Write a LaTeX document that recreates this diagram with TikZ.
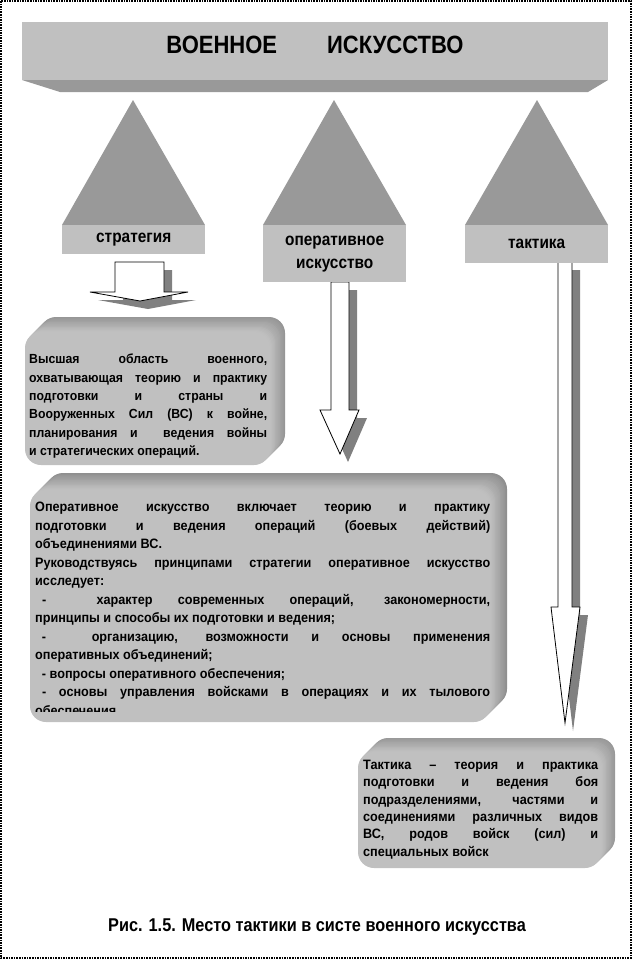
\documentclass[tikz,border=0pt]{standalone}
\usepackage{fontspec}
\setmainfont{Liberation Sans}
\newfontfamily\bodyfont{Liberation Sans}[FakeStretch=0.93]
\newfontfamily\labfont{Liberation Sans}[FakeStretch=0.88]
\definecolor{lightg}{HTML}{C0C0C0}
\definecolor{darkg}{HTML}{999999}
\definecolor{shadowg}{HTML}{808080}
\tikzset{
  tri/.style={fill=darkg},
  lbox/.style={fill=lightg, anchor=north west, inner sep=0pt, align=center,
    font=\labfont\bfseries\fontsize{17.5}{23}\selectfont},
  blockarr/.style={fill=white, draw=black, line width=0.8pt, line join=miter},
  arrshadow/.style={fill=shadowg},
  bodytext/.style={anchor=north west, inner sep=0pt, align=justify,
    font=\bodyfont\bfseries\fontsize{13.6}{18.5}\selectfont}
}
\newcommand{\tdbox}[5]{% x1 y1 x2 y2 depth
  \foreach \k in {#5,...,1}{%
    \pgfmathtruncatemacro\cc{24+1.2*\k}%
    \fill[black!\cc, rounded corners=16pt] (#1+\k,#2-\k) rectangle (#3+\k,#4-\k);}
  \fill[lightg, rounded corners=16pt] (#1,#2) rectangle (#3,#4);
}
\newcommand{\barrow}[8]{% shaft x1 x2, top, shaft bottom, head x1 x2, tip x, tip y
  \fill[arrshadow] (#1+8,#3+8) -- (#2+8,#3+8) -- (#2+8,#4+8) -- (#6+8,#4+8) -- (#7+8,#8+8) -- (#5+8,#4+8) -- (#1+8,#4+8) -- cycle;
  \draw[blockarr] (#1,#3) -- (#2,#3) -- (#2,#4) -- (#6,#4) -- (#7,#8) -- (#5,#4) -- (#1,#4) -- cycle;
}
\begin{document}
\begin{tikzpicture}[x=1pt,y=-1pt]
\useasboundingbox (0,0) rectangle (632,959);
\fill[white] (0,0) rectangle (632,959);
\draw[line width=1.6pt, densely dotted] (1,1) rectangle (631,958);

% banner
\fill[lightg] (22,22) rectangle (608,80);
\fill[darkg] (22,80) -- (608,80) -- (588,92) -- (60,92) -- cycle;
\node[font=\labfont\bfseries\fontsize{25}{28}\selectfont] (title) at (315,45) {ВОЕННОЕ\hspace{2em}ИСКУССТВО};

% triangles
\fill[tri] (133,100) -- (205,225) -- (62,225) -- cycle;
\fill[tri] (334,100) -- (406,225) -- (263,225) -- cycle;
\fill[tri] (537,100) -- (608,225) -- (465,225) -- cycle;

% block arrows (behind label boxes)
\barrow{115}{164}{262}{292}{90}{188}{140}{301}
\barrow{331}{349}{282}{410}{320}{359}{340}{454}
\barrow{558}{572}{262}{607}{551}{580}{565}{723}

% label boxes
\node[lbox, minimum width=143pt, minimum height=29pt] (strat) at (62,225) {стратегия};
\node[lbox, minimum width=143pt, minimum height=57pt, text width=143pt] (oper) at (263,225) {оперативное\\искусство};
\node[lbox, minimum width=143pt, minimum height=38pt] (takt) at (465,225) {тактика};

% 3D text boxes
\tdbox{25}{332}{270}{465}{15}
\tdbox{30}{490}{490}{722}{17}
\tdbox{358}{752}{601}{868}{14}

% box texts
\node[bodytext, text width=238pt, font=\bodyfont\bfseries\fontsize{13.2}{18.3}\selectfont] (d1) at (29,354) {%
Высшая область военного,\linebreak
охватывающая теорию и практику\linebreak
подготовки и страны и\linebreak
Вооруженных Сил (ВС) к войне,\linebreak
планирования и\ \ ведения войны\linebreak
и стратегических операций.};

\begin{scope}
\clip (30,490) rectangle (490,711);
\node[bodytext, text width=455pt] (d2) at (35,502) {%
Оперативное искусство включает теорию и практику\linebreak
подготовки и ведения операций (боевых действий)\linebreak
объединениями ВС.\par
Руководствуясь принципами стратегии оперативное искусство\linebreak
исследует:\par
\hspace*{0.5em}-\ \ характер современных операций, закономерности,\linebreak
принципы и способы их подготовки и ведения;\par
\hspace*{0.5em}-\ \ организацию, возможности и основы применения\linebreak
оперативных объединений;\par
\hspace*{0.5em}- вопросы оперативного обеспечения;\par
\hspace*{0.5em}- основы управления войсками в операциях и их тылового\linebreak
обеспечения.};
\end{scope}

\node[bodytext, text width=235pt, font=\bodyfont\bfseries\fontsize{13.6}{17.3}\selectfont] (d3) at (363,760) {%
Тактика – теория и практика\linebreak
подготовки и ведения боя\linebreak
подразделениями, частями и\linebreak
соединениями различных видов\linebreak
ВС, родов войск (сил) и\linebreak
специальных войск};

% caption
\node[font=\labfont\bfseries\fontsize{18.5}{20}\selectfont] (cap) at (317,927) {Рис. 1.5. Место тактики в систе военного искусства};
\end{tikzpicture}
\end{document}
